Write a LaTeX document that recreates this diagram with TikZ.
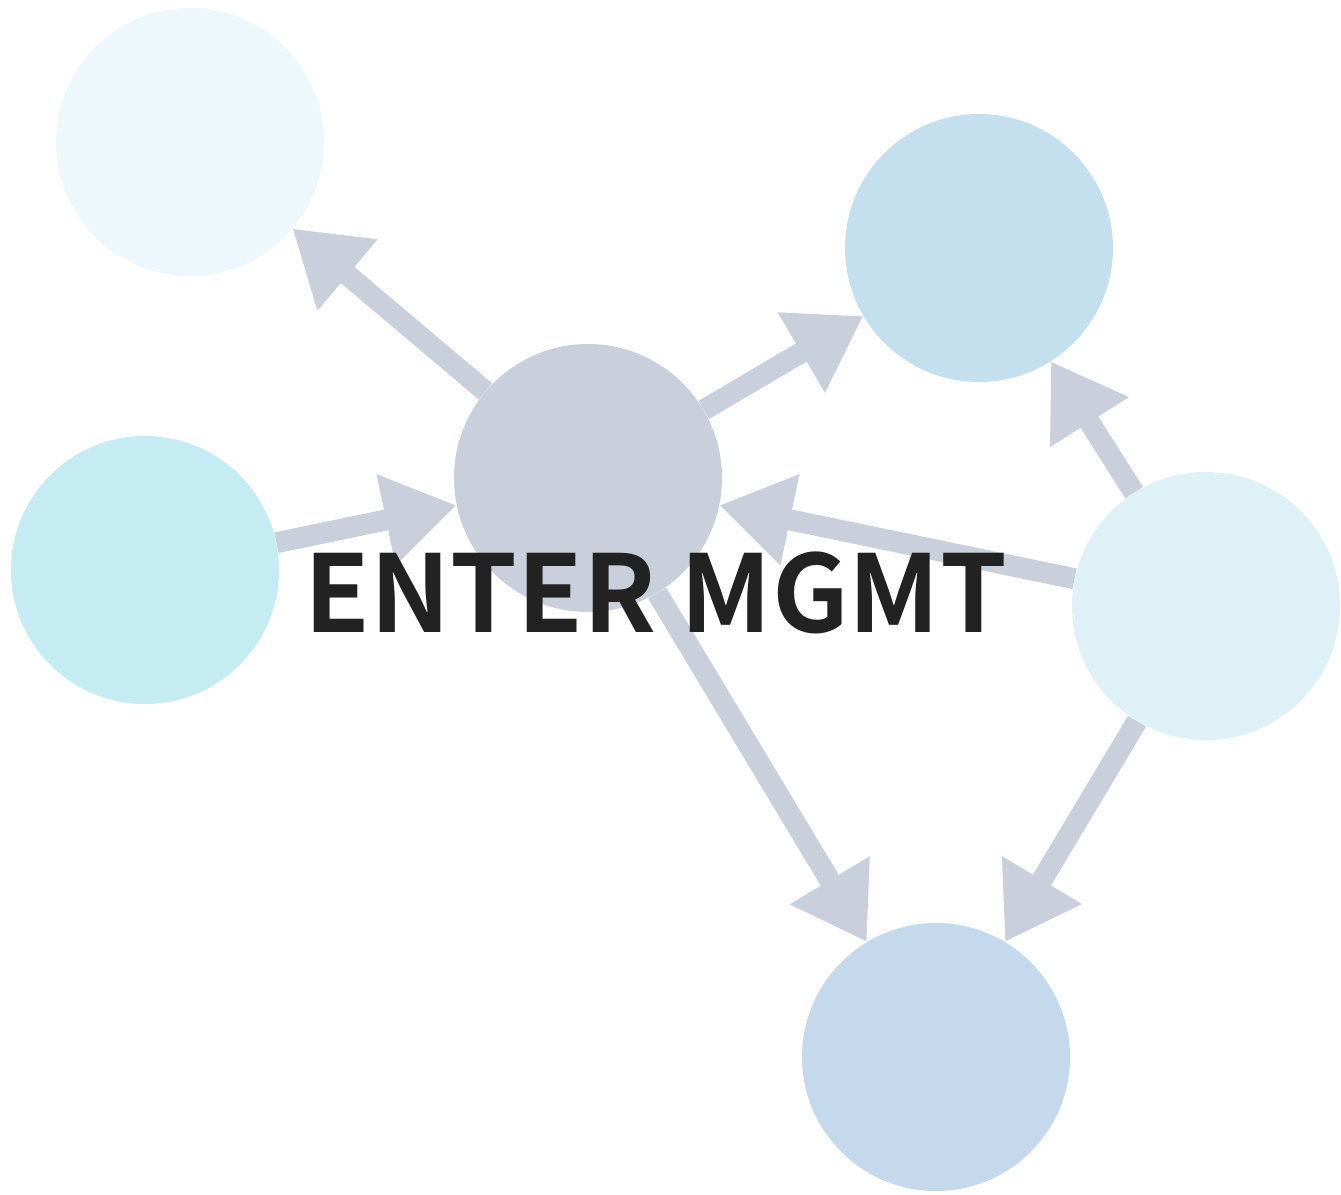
\documentclass[tikz,border=0pt]{standalone}
\usepackage{fontspec}
\newfontfamily\labelfont{Noto Sans CJK SC Bold}
\usetikzlibrary{arrows.meta,backgrounds}
\definecolor{palesky}{HTML}{EEF7FB}
\definecolor{skyblue}{HTML}{C4E0EE}
\definecolor{hubgray}{HTML}{C9D0DC}
\definecolor{aqua}{HTML}{C5EBF3}
\definecolor{lightaqua}{HTML}{DDF1F7}
\definecolor{steelblue}{HTML}{C4D9EC}
\definecolor{linkgray}{HTML}{C9D0DC}
\definecolor{textdark}{HTML}{222222}
\begin{document}
\begin{tikzpicture}[x=1pt,y=-1pt,
  bubble/.style={circle, inner sep=0pt, minimum size=268pt},
  link/.style={draw=linkgray, line width=21pt,
    -{Triangle[length=72pt,width=88pt]}}]
\useasboundingbox (0,0) rectangle (1341,1194);

% nodes
\node[bubble, fill=hubgray]    (hub)    at (588,478)  {};
\node[bubble, fill=palesky]    (nw)     at (190,142)  {};
\node[bubble, fill=skyblue]    (ne)     at (979,248)  {};
\node[bubble, fill=aqua]       (west)   at (145,570)  {};
\node[bubble, fill=lightaqua]  (east)   at (1206,606) {};
\node[bubble, fill=steelblue]  (south)  at (936,1057) {};

% connectors
\begin{scope}[on background layer]
  \draw[link] (hub) -- (nw);
  \draw[link] (hub) -- (ne);
  \draw[link] (west) -- (hub);
  \draw[link] (east) -- (hub);
  \draw[link] (hub) -- (south);
  \draw[link] (east) -- (ne);
  \draw[link] (east) -- (south);
\end{scope}

% title
\node[font=\labelfont\fontsize{107}{107}\selectfont, text=textdark,
  anchor=base, inner sep=0pt] (title) at (656,632) {ENTER MGMT};
\end{tikzpicture}
\end{document}
